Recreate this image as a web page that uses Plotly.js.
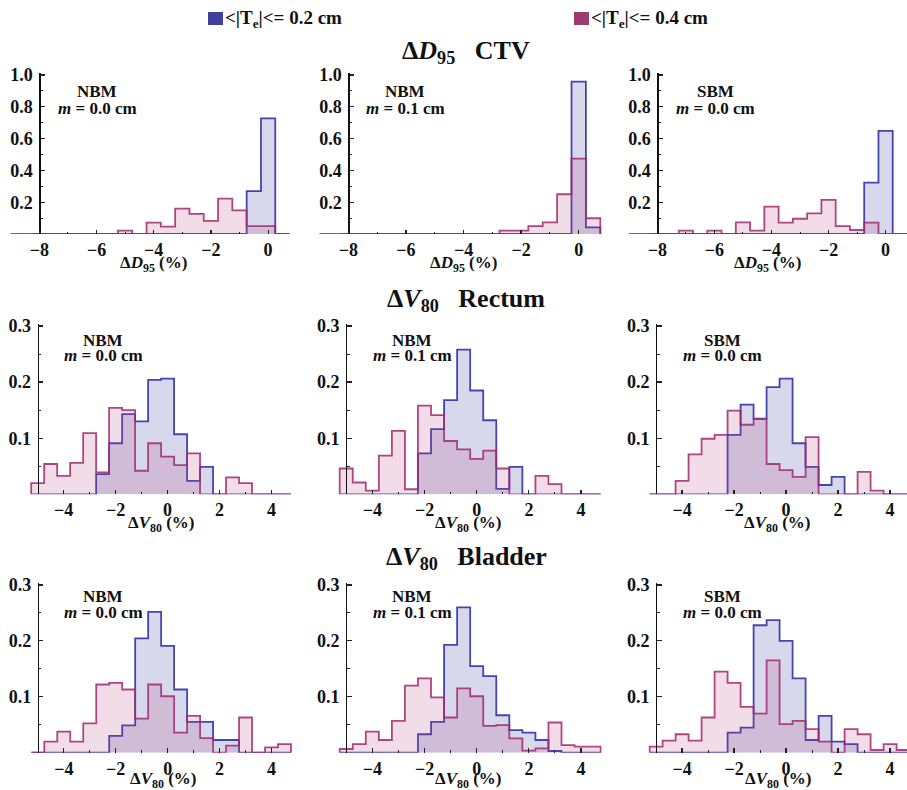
<!DOCTYPE html>
<html>
<head>
<meta charset="utf-8">
<script src="https://cdn.plot.ly/plotly-3.0.1.min.js"></script>
<style>html,body{margin:0;padding:0;background:#fff;}#chart{width:907px;height:790px;}</style>
</head>
<body>
<div id="chart"></div>
<script>
// ---------- DATA (bin heights, bin width 0.5) ----------
const binWidth = 0.5;
// Row 1: ΔD95 CTV  (pink bins start at -9.25, blue bins start at -8.25)
const ctvPinkStart = -9.25;
const ctvBlueStart = -8.25;
const ctv_nbm00_pink = [0,0,0,0,0,0,0,0,0.021,0,0.071,0.046,0.159,0.126,0.082,0.222,0.149,0.050,0.050,0];
const ctv_nbm00_blue = [0,0,0,0,0,0,0,0,0,0,0,0,0,0,0,0.270,0.727,0];
const ctv_nbm01_pink = [0,0,0,0,0,0,0,0,0,0,0,0,0,0.021,0.021,0.050,0.073,0.250,0.474,0.099];
const ctv_nbm01_blue = [0,0,0,0,0,0,0,0,0,0,0,0,0,0,0,0,0.958,0.042];
const ctv_sbm00_pink = [0,0,0,0,0.021,0,0.021,0,0.073,0.021,0.172,0.071,0.096,0.130,0.214,0.050,0.025,0.071,0,0];
const ctv_sbm00_blue = [0,0,0,0,0,0,0,0,0,0,0,0,0,0,0,0.323,0.648,0];
// Rows 2-3: ΔV80 Rectum / Bladder (bins start at -5.25)
const vStart = -5.25;
const rectum_nbm00_pink = [0.020,0.054,0.033,0.056,0.109,0.039,0.154,0.150,0.042,0.091,0.067,0.052,0.073,0,0,0.030,0.020,0,0,0];
const rectum_nbm00_blue = [0,0,0,0,0,0.036,0.091,0.143,0.130,0.204,0.206,0.107,0.024,0.049,0,0,0,0,0,0];
const rectum_nbm01_pink = [0.046,0.021,0.0065,0.069,0.113,0.009,0.158,0.141,0.095,0.080,0.063,0.078,0.046,0,0,0.033,0.018,0,0,0];
const rectum_nbm01_blue = [0,0,0,0,0,0,0.073,0.116,0.168,0.258,0.185,0.132,0.0095,0.049,0,0,0,0,0,0];
const rectum_sbm00_pink = [0,0,0.024,0.071,0.099,0.106,0.149,0.124,0.134,0.054,0.043,0.031,0.102,0,0,0,0.040,0.0065,0,0];
const rectum_sbm00_blue = [0,0,0,0,0,0,0.106,0.160,0.135,0.191,0.206,0.091,0.049,0.0166,0.031,0,0,0,0,0];
const bladder_nbm00_pink = [0,0.0197,0.0376,0.0197,0.0525,0.122,0.125,0.113,0.061,0.122,0.101,0.036,0.066,0.026,0,0.0125,0.063,0,0.0095,0.0155];
const bladder_nbm00_blue = [0,0,0,0,0,0,0.030,0.049,0.2045,0.252,0.191,0.113,0.055,0.055,0.0227,0.0227,0,0,0,0];
const bladder_nbm01_pink = [0.0066,0.0155,0.0376,0.0227,0.057,0.120,0.133,0.099,0.063,0.115,0.101,0.048,0.0495,0.0256,0.0036,0.0078,0.054,0.0137,0.0107,0.0107];
const bladder_nbm01_blue = [0,0,0,0,0,0,0.033,0.055,0.193,0.260,0.155,0.137,0.067,0.0405,0.036,0.0227,0.003,0,0,0];
const bladder_sbm00_pink = [0.0107,0.0215,0.033,0.0215,0.063,0.145,0.125,0.082,0.070,0.165,0.051,0.057,0.042,0.0197,0,0.042,0.033,0.0048,0.0155,0.0048];
const bladder_sbm00_blue = [0,0,0,0,0,0,0.036,0.045,0.228,0.237,0.200,0.133,0.0227,0.066,0.0197,0.0155,0,0,0,0];

// labels
const legendLabels = ['&lt;|T<sub>e</sub>|&lt;= 0.2 cm', '&lt;|T<sub>e</sub>|&lt;= 0.4 cm'];
const sectionTitles = ['Δ<i>D</i><sub>95</sub>   CTV', 'Δ<i>V</i><sub>80</sub>   Rectum', 'Δ<i>V</i><sub>80</sub>   Bladder'];
const xTitles = ['Δ<i>D</i><sub>95</sub> (%)', 'Δ<i>V</i><sub>80</sub> (%)', 'Δ<i>V</i><sub>80</sub> (%)'];
const methodLabels = ['NBM', 'NBM', 'SBM'];
const marginLabels = ['<i>m</i> = 0.0 cm', '<i>m</i> = 0.1 cm', '<i>m</i> = 0.0 cm'];
const xTickVals1 = [-8, -6, -4, -2, 0];
const xTickVals2 = [-4, -2, 0, 2, 4];
const yTickVals1 = [0.2, 0.4, 0.6, 0.8, 1.0];
const yTickText1 = ['0.2', '0.4', '0.6', '0.8', '1.0'];
const yTickVals2 = [0.1, 0.2, 0.3];
const yTickText2 = ['0.1', '0.2', '0.3'];

// ---------- STYLE / LAYOUT ----------
const W = 907, H = 790;
const blueLine = 'rgba(45,45,165,0.88)', pinkLine = 'rgba(160,40,110,0.85)';
const blueFill = 'rgba(60,60,160,0.2)', pinkFill = 'rgba(180,60,120,0.18)';
const FONT = 'Liberation Serif, Times New Roman, serif';

const panels = [
  {r:0,c:0,pink:ctv_nbm00_pink,blue:ctv_nbm00_blue,ps:ctvPinkStart,bs:ctvBlueStart,px:[10.7,296.7],xr:[-9,1],yat:-8},
  {r:0,c:1,pink:ctv_nbm01_pink,blue:ctv_nbm01_blue,ps:ctvPinkStart,bs:ctvBlueStart,px:[319.5,607.5],xr:[-9,1],yat:-8},
  {r:0,c:2,pink:ctv_sbm00_pink,blue:ctv_sbm00_blue,ps:ctvPinkStart,bs:ctvBlueStart,px:[628.8,907],xr:[-9,0.75],yat:-8},
  {r:1,c:0,pink:rectum_nbm00_pink,blue:rectum_nbm00_blue,ps:vStart,bs:vStart,px:[26,296.7],xr:[-5.45,4.97],yat:-5},
  {r:1,c:1,pink:rectum_nbm01_pink,blue:rectum_nbm01_blue,ps:vStart,bs:vStart,px:[335,601.7],xr:[-5.43,4.79],yat:-5},
  {r:1,c:2,pink:rectum_sbm00_pink,blue:rectum_sbm00_blue,ps:vStart,bs:vStart,px:[646.7,907],xr:[-5.36,4.65],yat:-5},
  {r:2,c:0,pink:bladder_nbm00_pink,blue:bladder_nbm00_blue,ps:vStart,bs:vStart,px:[30,296.7],xr:[-5.3,4.97],yat:-5},
  {r:2,c:1,pink:bladder_nbm01_pink,blue:bladder_nbm01_blue,ps:vStart,bs:vStart,px:[335,601.7],xr:[-5.43,4.79],yat:-5},
  {r:2,c:2,pink:bladder_sbm00_pink,blue:bladder_sbm00_blue,ps:vStart,bs:vStart,px:[648.3,907],xr:[-5.3,4.65],yat:-5}
];
const rowsY = [ {bot:234, top:73.4, yr:[0,1.01]}, {bot:494.3, top:324.3, yr:[0,0.303]}, {bot:752.7, top:583.3, yr:[0,0.303]} ];
const rowTitleY = [52, 300, 558];
const rowXTitleY = [264, 524, 780];
const labelPos = [
  [97,92],[405,92],[715,92],
  [103,340],[412,340],[722,340],
  [103,596],[412,596],[722,596]
];

function stepXY(start, h) {
  const xs = [start], ys = [0];
  for (let i = 0; i < h.length; i++) { xs.push(start + i * binWidth); ys.push(h[i]); }
  xs.push(start + h.length * binWidth); ys.push(0);
  return {xs, ys};
}

const tickFont = {family: FONT, size: 18, color: '#111', weight: 'bold'};
const traces = [];
const layout = {
  width: W, height: H, margin: {l:0, r:0, t:0, b:0}, autosize: false,
  paper_bgcolor: '#fff', plot_bgcolor: 'rgba(0,0,0,0)', showlegend: false,
  annotations: [], shapes: []
};

panels.forEach((p, i) => {
  const n = i + 1;
  const xa = 'x' + (n === 1 ? '' : n), ya = 'y' + (n === 1 ? '' : n);
  const xk = 'xaxis' + (n === 1 ? '' : n), yk = 'yaxis' + (n === 1 ? '' : n);
  const row = rowsY[p.r];
  const d0 = p.px[0] / W, d1 = p.px[1] / W;
  const yd = [1 - row.bot / H, 1 - row.top / H];
  const yPos = d0 + (p.yat - p.xr[0]) / (p.xr[1] - p.xr[0]) * (d1 - d0);
  const b = stepXY(p.bs, p.blue), k = stepXY(p.ps, p.pink);
  traces.push({type:'scatter', mode:'lines', x:b.xs, y:b.ys, xaxis:xa, yaxis:ya, line:{shape:'hv', color:blueLine, width:1.8}, fill:'tozeroy', fillcolor:blueFill, hoverinfo:'skip'});
  traces.push({type:'scatter', mode:'lines', x:k.xs, y:k.ys, xaxis:xa, yaxis:ya, line:{shape:'hv', color:pinkLine, width:1.8}, fill:'tozeroy', fillcolor:pinkFill, hoverinfo:'skip'});
  const row1 = p.r === 0;
  layout[xk] = {
    domain:[d0, d1], range:p.xr, anchor:ya, showgrid:false, zeroline:false, showline:false,
    tickmode:'array', tickvals: row1 ? xTickVals1 : xTickVals2, ticks:'inside', ticklen:4.5, tickwidth:1.2, tickcolor:'#222',
    minor:{tickmode:'array', tickvals: row1 ? [-7,-5,-3,-1] : [-3,-1,1,3], ticks:'inside', ticklen:2.5, tickwidth:1, tickcolor:'#222'},
    tickfont:tickFont, ticklabelstandoff:3, fixedrange:true
  };
  layout[yk] = {
    domain:yd, range:row.yr, anchor:'free', position:yPos, showgrid:false, zeroline:false,
    showline:true, linecolor:'#111', linewidth:1.2,
    tickmode:'array', tickvals: row1 ? yTickVals1 : yTickVals2, ticktext: row1 ? yTickText1 : yTickText2,
    ticks:'inside', ticklen:4.5, tickwidth:1.2, tickcolor:'#222',
    minor:{tickmode:'array', tickvals: row1 ? [0.1,0.3,0.5,0.7,0.9] : [0.05,0.15,0.25], ticks:'inside', ticklen:2.5, tickwidth:1, tickcolor:'#222'},
    tickfont:tickFont, ticklabelstandoff:3, fixedrange:true
  };
  const lp = labelPos[i];
  layout.annotations.push({xref:'paper', yref:'paper', x:lp[0]/W, y:1-lp[1]/H, xanchor:'center', yanchor:'middle', showarrow:false,
    text:'<b>' + methodLabels[p.c] + '</b>', font:{family:FONT, size:17, color:'#111'}});
  layout.annotations.push({xref:'paper', yref:'paper', x:lp[0]/W, y:1-(lp[1]+16)/H, xanchor:'center', yanchor:'middle', showarrow:false,
    text:'<b>' + marginLabels[p.c] + '</b>', font:{family:FONT, size:17, color:'#111'}});
  const cx = (p.px[0] + p.px[1]) / 2;
  layout.annotations.push({xref:'paper', yref:'paper', x:cx/W, y:1-rowXTitleY[p.r]/H, xanchor:'center', yanchor:'middle', showarrow:false,
    text:'<b>' + xTitles[p.r] + '</b>', font:{family:FONT, size:17, color:'#111'}});
});

sectionTitles.forEach((t, r) => {
  layout.annotations.push({xref:'paper', yref:'paper', x:466/W, y:1-rowTitleY[r]/H, xanchor:'center', yanchor:'middle', showarrow:false,
    text:'<b>' + t + '</b>', font:{family:FONT, size:26, color:'#111'}});
});

const legendItems = [{x:208, color:'#3f3f9c', label:legendLabels[0]}, {x:574, color:'#9b3d70', label:legendLabels[1]}];
legendItems.forEach(it => {
  layout.shapes.push({type:'rect', xref:'paper', yref:'paper', x0:it.x/W, x1:(it.x+15)/W, y0:1-25/H, y1:1-12/H, fillcolor:it.color, line:{width:0}});
  layout.annotations.push({xref:'paper', yref:'paper', x:(it.x+15)/W, y:1-19/H, xanchor:'left', yanchor:'middle', showarrow:false,
    text:'<b>' + it.label + '</b>', font:{family:FONT, size:19, color:'#111'}});
});

Plotly.newPlot('chart', traces, layout, {staticPlot:true, displayModeBar:false});
</script>
</body>
</html>
